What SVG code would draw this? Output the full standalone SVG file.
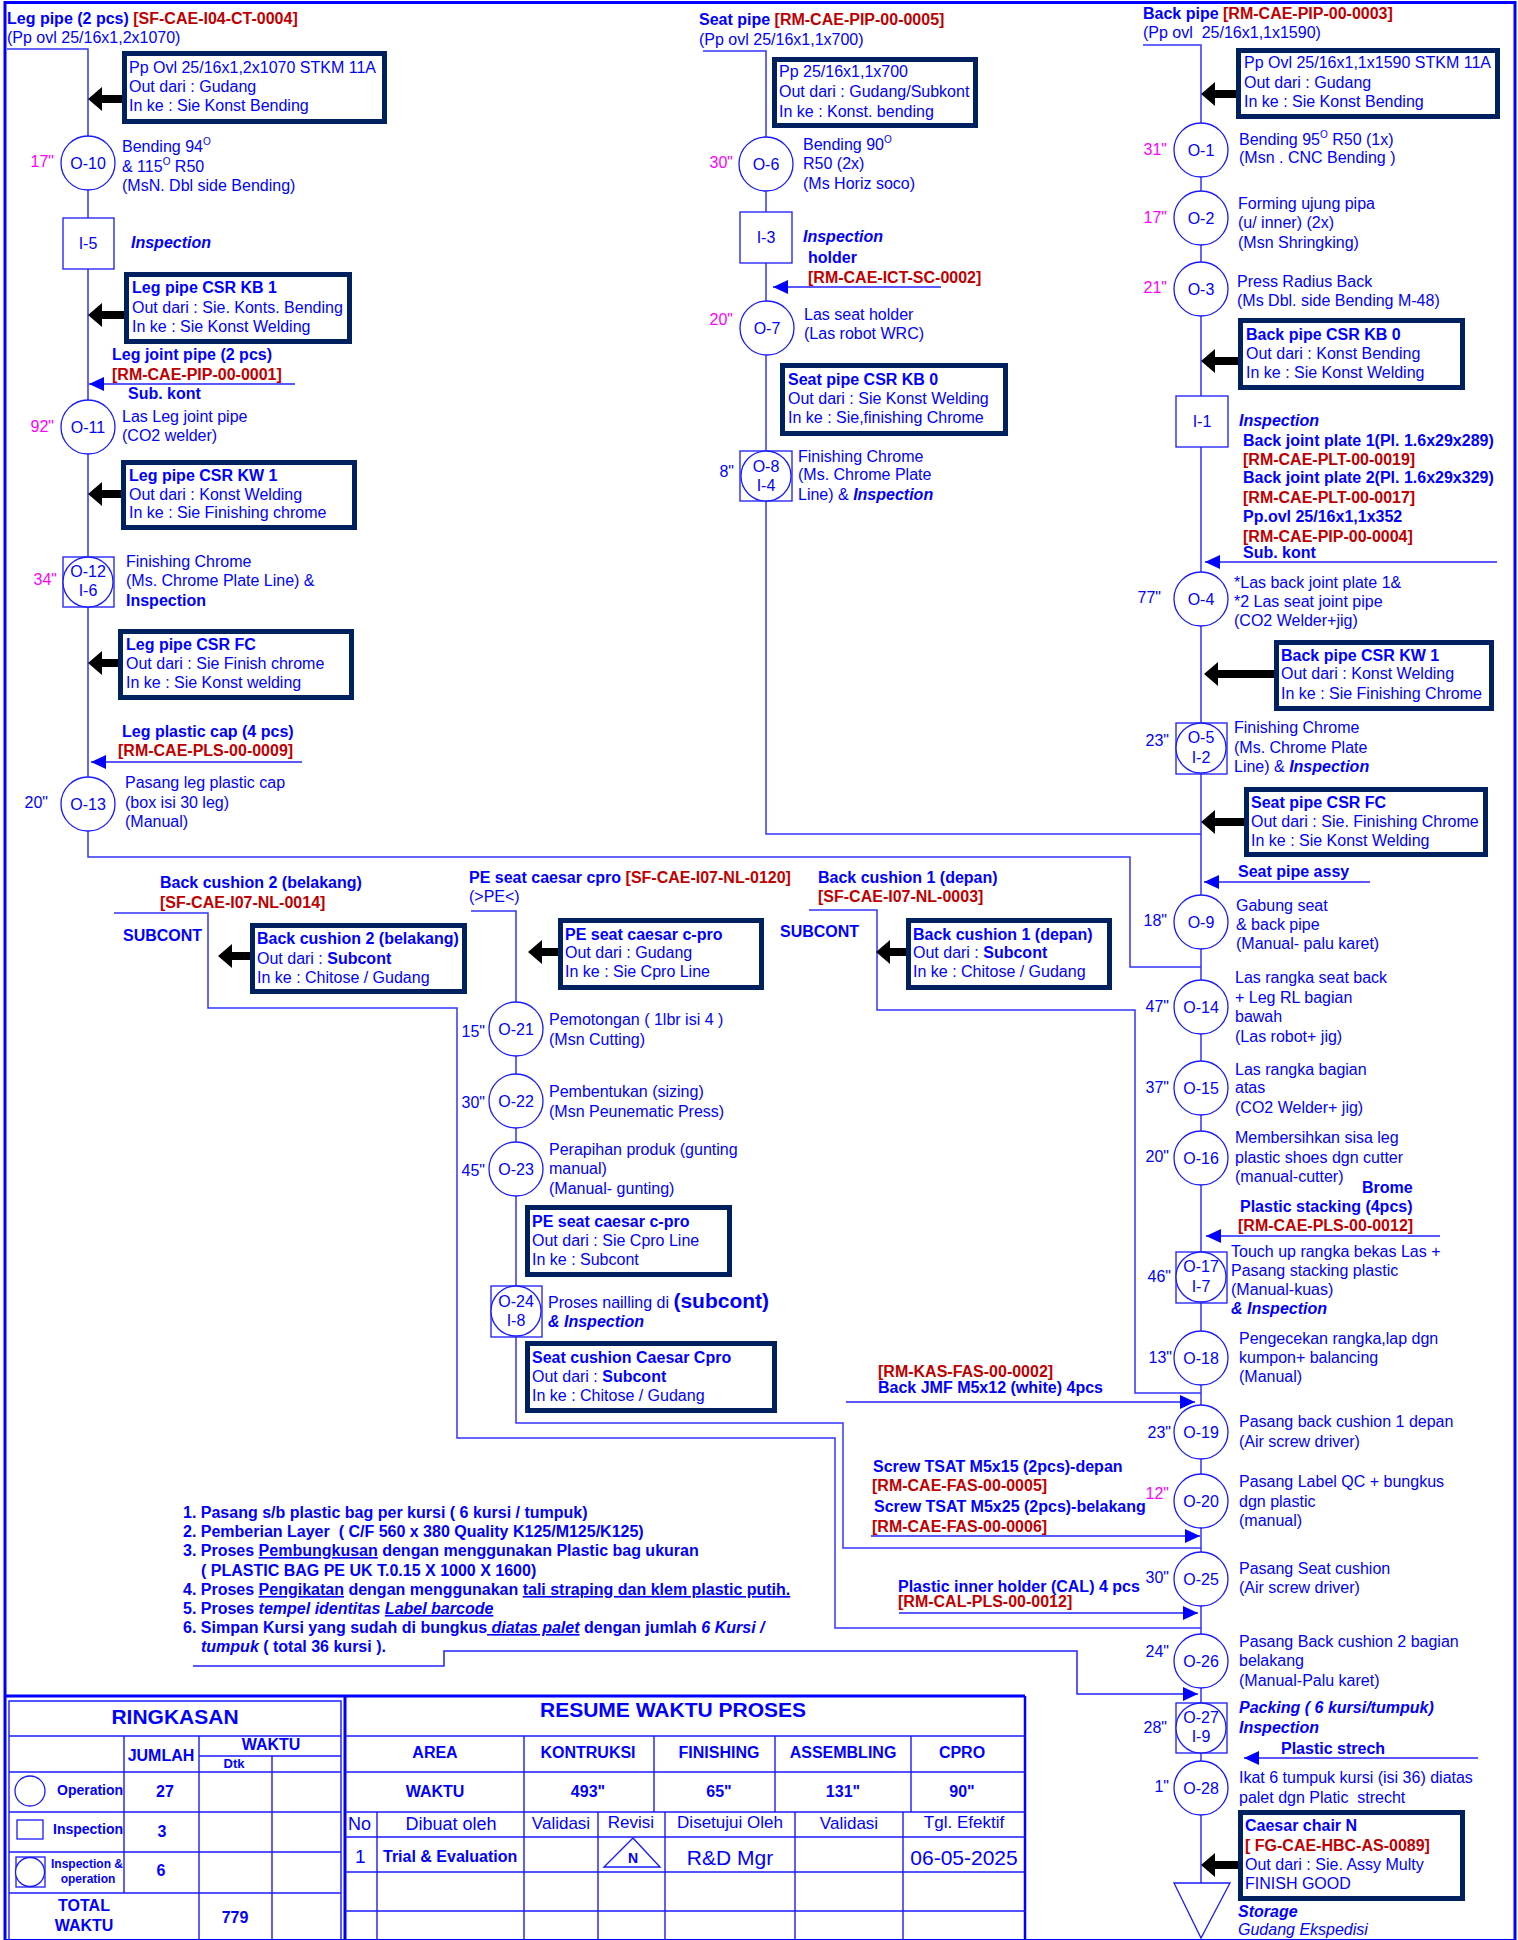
<svg xmlns="http://www.w3.org/2000/svg" width="1518" height="1940" viewBox="0 0 1518 1940">
<style>
text{font-family:"Liberation Sans",Arial,Helvetica,sans-serif;font-size:16px;fill:#0000FF}
.b{font-weight:bold}
.i{font-style:italic}
.r{fill:#C00000}
.m{fill:#FF00FF}
.c{text-anchor:middle}
.e{text-anchor:end}
.u{text-decoration:underline}
.ln{fill:none;stroke:#3333FF;stroke-width:1.5}
.tb{fill:none;stroke:#1A1AFF;stroke-width:1.4}
.box{fill:#FFFFFF;stroke:#002060;stroke-width:5}
.sym{fill:#FFFFFF;stroke:#1A1AFF;stroke-width:1.3}
.blk{stroke:#000000;stroke-width:8;fill:none;marker-end:url(#bh)}
.bl{stroke:#2222FF;stroke-width:1.5;fill:none;marker-end:url(#ah)}
.sup{font-size:10px}
</style>
<defs>
<marker id="bh" markerUnits="userSpaceOnUse" markerWidth="15" markerHeight="24" refX="0" refY="12" orient="auto"><path d="M0,0 L14,12 L0,24 Z" fill="#000000"/></marker>
<marker id="ah" markerUnits="userSpaceOnUse" markerWidth="16" markerHeight="14" refX="15" refY="7" orient="auto"><path d="M0,0 L15,7 L0,14 Z" fill="#0000FF"/></marker>
</defs>
<rect x="0" y="0" width="1518" height="1940" fill="#FFFFFF"/>
<rect x="5" y="2.5" width="1510" height="1938" fill="none" stroke="#0000FF" stroke-width="3"/>

<g id="connectors">
<polyline class="ln" points="7,49 88,49 88,857 1130,857 1130,967 1201,967"/>
<polyline class="ln" points="703,51 766,51 766,834 1201,834"/>
<polyline class="ln" points="1143,45 1201,45 1201,1883"/>
<polyline class="ln" points="114,913 208,913 208,1008 457,1008 457,1438 835,1438 835,1628 1201,1628"/>
<polyline class="ln" points="471,911 516,911 516,1423 843,1423 843,1548 1201,1548"/>
<polyline class="ln" points="809,910 877,910 877,1010 1135,1010 1135,1393 1201,1393"/>
<polyline class="bl" points="193,1666 444,1666 444,1651 1077,1651 1077,1694 1198,1694"/>
<line class="bl" x1="295" y1="384" x2="89" y2="384"/>
<line class="bl" x1="302" y1="762" x2="91" y2="762"/>
<line class="bl" x1="941" y1="287" x2="773" y2="287"/>
<line class="bl" x1="1497" y1="562" x2="1205" y2="562"/>
<line class="bl" x1="1370" y1="882" x2="1204" y2="882"/>
<line class="bl" x1="1440" y1="1236" x2="1206" y2="1236"/>
<line class="bl" x1="1478" y1="1758" x2="1244" y2="1758"/>
<line class="bl" x1="846" y1="1402" x2="1195" y2="1402"/>
<line class="bl" x1="871" y1="1536" x2="1200" y2="1536"/>
<line class="bl" x1="899" y1="1613" x2="1198" y2="1613"/>
<line class="blk" x1="122" y1="99" x2="102" y2="99"/>
<line class="blk" x1="124" y1="315" x2="102" y2="315"/>
<line class="blk" x1="121" y1="494" x2="102" y2="494"/>
<line class="blk" x1="118" y1="663" x2="102" y2="663"/>
<line class="blk" x1="250" y1="956" x2="232" y2="956"/>
<line class="blk" x1="558" y1="952" x2="542" y2="952"/>
<line class="blk" x1="906" y1="952" x2="890" y2="952"/>
<line class="blk" x1="1236" y1="94" x2="1215" y2="94"/>
<line class="blk" x1="1238" y1="361" x2="1215" y2="361"/>
<line class="blk" x1="1274" y1="674" x2="1218" y2="674"/>
<line class="blk" x1="1244" y1="822" x2="1215" y2="822"/>
<line class="blk" x1="1238" y1="1865" x2="1215" y2="1865"/>
</g>

<g id="leg-header">
<text x="7" y="24" class="b">Leg pipe (2 pcs) <tspan class="r">[SF-CAE-I04-CT-0004]</tspan></text>
<text x="7" y="43">(Pp ovl 25/16x1,2x1070)</text>
</g>
<g id="seat-header">
<text x="699" y="25" class="b">Seat pipe <tspan class="r">[RM-CAE-PIP-00-0005]</tspan></text>
<text x="699" y="45">(Pp ovl 25/16x1,1x700)</text>
</g>
<g id="back-header">
<text x="1143" y="19" class="b">Back pipe <tspan class="r">[RM-CAE-PIP-00-0003]</tspan></text>
<text x="1143" y="38" style="white-space:pre">(Pp ovl  25/16x1,1x1590)</text>
</g>

<g id="box-leg-material">
<rect class="box" x="124.5" y="53.5" width="260" height="68"/>
<text x="129" y="73">Pp Ovl 25/16x1,2x1070 STKM 11A</text>
<text x="129" y="92">Out dari : Gudang</text>
<text x="129" y="111">In ke : Sie Konst Bending</text>
</g>
<g id="O-10">
<circle class="sym" cx="88" cy="163" r="27"/>
<text x="88" y="169" class="c">O-10</text>
<text x="54" y="167" class="e m">17"</text>
<text x="122" y="152">Bending 94<tspan class="sup" dy="-7">O</tspan></text>
<text x="122" y="172">&amp; 115<tspan class="sup" dy="-7">O</tspan><tspan dy="7"> R50</tspan></text>
<text x="122" y="191">(MsN. Dbl side Bending)</text>
</g>
<g id="I-5">
<rect class="sym" x="63" y="218" width="51" height="51"/>
<text x="88" y="249" class="c">I-5</text>
<text x="131" y="248" class="b i">Inspection</text>
</g>
<g id="box-leg-kb1">
<rect class="box" x="126.5" y="274.5" width="223" height="67"/>
<text x="132" y="293" class="b">Leg pipe CSR KB 1</text>
<text x="132" y="313">Out dari : Sie. Konts. Bending</text>
<text x="132" y="332">In ke : Sie Konst Welding</text>
</g>
<g id="leg-joint-input">
<text x="112" y="360" class="b">Leg joint pipe (2 pcs)</text>
<text x="112" y="380" class="b r">[RM-CAE-PIP-00-0001]</text>
<text x="128" y="399" class="b">Sub. kont</text>
</g>
<g id="O-11">
<circle class="sym" cx="88" cy="427" r="27"/>
<text x="88" y="433" class="c">O-11</text>
<text x="54" y="432" class="e m">92"</text>
<text x="122" y="422">Las Leg joint pipe</text>
<text x="122" y="441">(CO2 welder)</text>
</g>
<g id="box-leg-kw1">
<rect class="box" x="123.5" y="462.5" width="231" height="65"/>
<text x="129" y="481" class="b">Leg pipe CSR KW 1</text>
<text x="129" y="500">Out dari : Konst Welding</text>
<text x="129" y="518">In ke : Sie Finishing chrome</text>
</g>
<g id="O-12">
<rect class="sym" x="63" y="557" width="51" height="50"/>
<circle class="sym" cx="88" cy="582" r="25"/>
<text x="88" y="577" class="c">O-12</text>
<text x="88" y="596" class="c">I-6</text>
<text x="57" y="585" class="e m">34"</text>
<text x="126" y="567">Finishing Chrome</text>
<text x="126" y="586">(Ms. Chrome Plate Line) &amp;</text>
<text x="126" y="606" class="b">Inspection</text>
</g>
<g id="box-leg-fc">
<rect class="box" x="120.5" y="631.5" width="231" height="66"/>
<text x="126" y="650" class="b">Leg pipe CSR FC</text>
<text x="126" y="669">Out dari : Sie Finish chrome</text>
<text x="126" y="688">In ke : Sie Konst welding</text>
</g>
<g id="leg-cap-input">
<text x="122" y="737" class="b">Leg plastic cap (4 pcs)</text>
<text x="118" y="756" class="b r">[RM-CAE-PLS-00-0009]</text>
</g>
<g id="O-13">
<circle class="sym" cx="88" cy="804" r="27"/>
<text x="88" y="810" class="c">O-13</text>
<text x="48" y="808" class="e">20"</text>
<text x="125" y="788">Pasang leg plastic cap</text>
<text x="125" y="808">(box isi 30 leg)</text>
<text x="125" y="827">(Manual)</text>
</g>

<g id="box-seat-material">
<rect class="box" x="774.5" y="59.5" width="201" height="66"/>
<text x="779" y="77">Pp 25/16x1,1x700</text>
<text x="779" y="97">Out dari : Gudang/Subkont</text>
<text x="779" y="117">In ke : Konst. bending</text>
</g>
<g id="O-6">
<circle class="sym" cx="766" cy="164" r="27"/>
<text x="766" y="170" class="c">O-6</text>
<text x="733" y="168" class="e m">30"</text>
<text x="803" y="150">Bending 90<tspan class="sup" dy="-7">O</tspan></text>
<text x="803" y="169">R50 (2x)</text>
<text x="803" y="189">(Ms Horiz soco)</text>
</g>
<g id="I-3">
<rect class="sym" x="740" y="212" width="52" height="51"/>
<text x="766" y="243" class="c">I-3</text>
<text x="803" y="242" class="b i">Inspection</text>
</g>
<g id="holder-input">
<text x="808" y="263" class="b">holder</text>
<text x="808" y="283" class="b r">[RM-CAE-ICT-SC-0002]</text>
</g>
<g id="O-7">
<circle class="sym" cx="767" cy="328" r="27"/>
<text x="767" y="334" class="c">O-7</text>
<text x="733" y="325" class="e m">20"</text>
<text x="804" y="320">Las seat holder</text>
<text x="804" y="339">(Las robot WRC)</text>
</g>
<g id="box-seat-kb0">
<rect class="box" x="782.5" y="365.5" width="223" height="68"/>
<text x="788" y="385" class="b">Seat pipe CSR KB 0</text>
<text x="788" y="404">Out dari : Sie Konst Welding</text>
<text x="788" y="423">In ke : Sie,finishing Chrome</text>
</g>
<g id="O-8">
<rect class="sym" x="740" y="451" width="52" height="50"/>
<circle class="sym" cx="766" cy="476" r="25"/>
<text x="766" y="472" class="c">O-8</text>
<text x="766" y="491" class="c">I-4</text>
<text x="734" y="477" class="e">8"</text>
<text x="798" y="462">Finishing Chrome</text>
<text x="798" y="480">(Ms. Chrome Plate</text>
<text x="798" y="500">Line) &amp; <tspan class="b i">Inspection</tspan></text>
</g>

<g id="box-back-material">
<rect class="box" x="1238.5" y="50.5" width="259" height="66"/>
<text x="1244" y="68">Pp Ovl 25/16x1,1x1590 STKM 11A</text>
<text x="1244" y="88">Out dari : Gudang</text>
<text x="1244" y="107">In ke : Sie Konst Bending</text>
</g>
<g id="O-1">
<circle class="sym" cx="1201" cy="150" r="27"/>
<text x="1201" y="156" class="c">O-1</text>
<text x="1167" y="155" class="e m">31"</text>
<text x="1239" y="145">Bending 95<tspan class="sup" dy="-7">O</tspan><tspan dy="7"> R50 (1x)</tspan></text>
<text x="1239" y="163">(Msn . CNC Bending )</text>
</g>
<g id="O-2">
<circle class="sym" cx="1201" cy="218" r="27"/>
<text x="1201" y="224" class="c">O-2</text>
<text x="1167" y="223" class="e m">17"</text>
<text x="1238" y="209">Forming ujung pipa</text>
<text x="1238" y="228">(u/ inner) (2x)</text>
<text x="1238" y="248">(Msn Shringking)</text>
</g>
<g id="O-3">
<circle class="sym" cx="1201" cy="289" r="27"/>
<text x="1201" y="295" class="c">O-3</text>
<text x="1167" y="293" class="e m">21"</text>
<text x="1237" y="287">Press Radius Back</text>
<text x="1237" y="306">(Ms Dbl. side Bending M-48)</text>
</g>
<g id="box-back-kb0">
<rect class="box" x="1240.5" y="320.5" width="222" height="67"/>
<text x="1246" y="340" class="b">Back pipe CSR KB 0</text>
<text x="1246" y="359">Out dari : Konst Bending</text>
<text x="1246" y="378">In ke : Sie Konst Welding</text>
</g>
<g id="I-1">
<rect class="sym" x="1176" y="396" width="52" height="51"/>
<text x="1202" y="427" class="c">I-1</text>
<text x="1239" y="426" class="b i">Inspection</text>
</g>
<g id="back-joint-input">
<text x="1243" y="446" class="b">Back joint plate 1(Pl. 1.6x29x289)</text>
<text x="1243" y="465" class="b r">[RM-CAE-PLT-00-0019]</text>
<text x="1243" y="483" class="b">Back joint plate 2(Pl. 1.6x29x329)</text>
<text x="1243" y="503" class="b r">[RM-CAE-PLT-00-0017]</text>
<text x="1243" y="522" class="b">Pp.ovl 25/16x1,1x352</text>
<text x="1243" y="542" class="b r">[RM-CAE-PIP-00-0004]</text>
<text x="1243" y="558" class="b">Sub. kont</text>
</g>
<g id="O-4">
<circle class="sym" cx="1201" cy="599" r="27"/>
<text x="1201" y="605" class="c">O-4</text>
<text x="1161" y="603" class="e">77"</text>
<text x="1234" y="588">*Las back joint plate 1&amp;</text>
<text x="1234" y="607">*2 Las seat joint pipe</text>
<text x="1234" y="626">(CO2 Welder+jig)</text>
</g>
<g id="box-back-kw1">
<rect class="box" x="1276.5" y="642.5" width="215" height="66"/>
<text x="1281" y="661" class="b">Back pipe CSR KW 1</text>
<text x="1281" y="679">Out dari : Konst Welding</text>
<text x="1281" y="699">In ke : Sie Finishing Chrome</text>
</g>
<g id="O-5">
<rect class="sym" x="1176" y="723" width="51" height="51"/>
<circle class="sym" cx="1201" cy="748" r="25"/>
<text x="1201" y="743" class="c">O-5</text>
<text x="1201" y="763" class="c">I-2</text>
<text x="1169" y="746" class="e">23"</text>
<text x="1234" y="733">Finishing Chrome</text>
<text x="1234" y="753">(Ms. Chrome Plate</text>
<text x="1234" y="772">Line) &amp; <tspan class="b i">Inspection</tspan></text>
</g>
<g id="box-seat-fc">
<rect class="box" x="1246.5" y="789.5" width="239" height="65"/>
<text x="1251" y="808" class="b">Seat pipe CSR FC</text>
<text x="1251" y="827">Out dari : Sie. Finishing Chrome</text>
<text x="1251" y="846">In ke : Sie Konst Welding</text>
</g>
<g id="seat-assy-input">
<text x="1238" y="877" class="b">Seat pipe assy</text>
</g>
<g id="O-9">
<circle class="sym" cx="1201" cy="922" r="27"/>
<text x="1201" y="928" class="c">O-9</text>
<text x="1167" y="926" class="e">18"</text>
<text x="1236" y="911">Gabung seat</text>
<text x="1236" y="930">&amp; back pipe</text>
<text x="1236" y="949">(Manual- palu karet)</text>
</g>
<g id="O-14">
<circle class="sym" cx="1201" cy="1007" r="27"/>
<text x="1201" y="1013" class="c">O-14</text>
<text x="1169" y="1012" class="e">47"</text>
<text x="1235" y="983">Las rangka seat back</text>
<text x="1235" y="1003">+ Leg RL bagian</text>
<text x="1235" y="1022">bawah</text>
<text x="1235" y="1042">(Las robot+ jig)</text>
</g>
<g id="O-15">
<circle class="sym" cx="1201" cy="1088" r="27"/>
<text x="1201" y="1094" class="c">O-15</text>
<text x="1169" y="1093" class="e">37"</text>
<text x="1235" y="1075">Las rangka bagian</text>
<text x="1235" y="1093">atas</text>
<text x="1235" y="1113">(CO2 Welder+ jig)</text>
</g>
<g id="O-16">
<circle class="sym" cx="1201" cy="1158" r="27"/>
<text x="1201" y="1164" class="c">O-16</text>
<text x="1169" y="1162" class="e">20"</text>
<text x="1235" y="1143">Membersihkan sisa leg</text>
<text x="1235" y="1163">plastic shoes dgn cutter</text>
<text x="1235" y="1182">(manual-cutter)</text>
</g>
<g id="stacking-input">
<text x="1362" y="1193" class="b">Brome</text>
<text x="1240" y="1212" class="b">Plastic stacking (4pcs)</text>
<text x="1238" y="1231" class="b r">[RM-CAE-PLS-00-0012]</text>
</g>
<g id="O-17">
<rect class="sym" x="1176" y="1252" width="51" height="51"/>
<circle class="sym" cx="1201" cy="1277" r="25"/>
<text x="1201" y="1272" class="c">O-17</text>
<text x="1201" y="1292" class="c">I-7</text>
<text x="1171" y="1282" class="e">46"</text>
<text x="1231" y="1257">Touch up rangka bekas Las +</text>
<text x="1231" y="1276">Pasang stacking plastic</text>
<text x="1231" y="1295">(Manual-kuas)</text>
<text x="1231" y="1314" class="b i">&amp; Inspection</text>
</g>
<g id="O-18">
<circle class="sym" cx="1201" cy="1358" r="27"/>
<text x="1201" y="1364" class="c">O-18</text>
<text x="1172" y="1363" class="e">13"</text>
<text x="1239" y="1344">Pengecekan rangka,lap dgn</text>
<text x="1239" y="1363">kumpon+ balancing</text>
<text x="1239" y="1382">(Manual)</text>
</g>
<g id="jmf-input">
<text x="878" y="1377" class="b r">[RM-KAS-FAS-00-0002]</text>
<text x="878" y="1393" class="b">Back JMF M5x12 (white) 4pcs</text>
</g>
<g id="O-19">
<circle class="sym" cx="1201" cy="1432" r="27"/>
<text x="1201" y="1438" class="c">O-19</text>
<text x="1171" y="1438" class="e">23"</text>
<text x="1239" y="1427">Pasang back cushion 1 depan</text>
<text x="1239" y="1447">(Air screw driver)</text>
</g>
<g id="screw-input">
<text x="873" y="1472" class="b">Screw TSAT M5x15 (2pcs)-depan</text>
<text x="872" y="1491" class="b r">[RM-CAE-FAS-00-0005]</text>
<text x="874" y="1512" class="b">Screw TSAT M5x25 (2pcs)-belakang</text>
<text x="872" y="1532" class="b r">[RM-CAE-FAS-00-0006]</text>
</g>
<g id="O-20">
<circle class="sym" cx="1201" cy="1501" r="27"/>
<text x="1201" y="1507" class="c">O-20</text>
<text x="1169" y="1499" class="e m">12"</text>
<text x="1239" y="1487">Pasang Label QC + bungkus</text>
<text x="1239" y="1507">dgn plastic</text>
<text x="1239" y="1526">(manual)</text>
</g>
<g id="O-25">
<circle class="sym" cx="1201" cy="1579" r="27"/>
<text x="1201" y="1585" class="c">O-25</text>
<text x="1169" y="1583" class="e">30"</text>
<text x="1239" y="1574">Pasang Seat cushion</text>
<text x="1239" y="1593">(Air screw driver)</text>
</g>
<g id="inner-holder-input">
<text x="898" y="1592" class="b">Plastic inner holder (CAL) 4 pcs</text>
<text x="898" y="1607" class="b r">[RM-CAL-PLS-00-0012]</text>
</g>
<g id="O-26">
<circle class="sym" cx="1201" cy="1661" r="27"/>
<text x="1201" y="1667" class="c">O-26</text>
<text x="1169" y="1657" class="e">24"</text>
<text x="1239" y="1647">Pasang Back cushion 2 bagian</text>
<text x="1239" y="1666">belakang</text>
<text x="1239" y="1686">(Manual-Palu karet)</text>
</g>
<g id="O-27">
<rect class="sym" x="1176" y="1703" width="51" height="50"/>
<circle class="sym" cx="1201" cy="1728" r="25"/>
<text x="1201" y="1723" class="c">O-27</text>
<text x="1201" y="1742" class="c">I-9</text>
<text x="1167" y="1733" class="e">28"</text>
<text x="1239" y="1713" class="b i">Packing ( 6 kursi/tumpuk)</text>
<text x="1239" y="1733" class="b i">Inspection</text>
</g>
<g id="stretch-input">
<text x="1281" y="1754" class="b">Plastic strech</text>
</g>
<g id="O-28">
<circle class="sym" cx="1201" cy="1788" r="27"/>
<text x="1201" y="1794" class="c">O-28</text>
<text x="1169" y="1792" class="e">1"</text>
<text x="1239" y="1783">Ikat 6 tumpuk kursi (isi 36) diatas</text>
<text x="1239" y="1803" style="white-space:pre">palet dgn Platic  strecht</text>
</g>
<g id="box-finish-good">
<rect class="box" x="1240.5" y="1812.5" width="222" height="86"/>
<text x="1245" y="1831" class="b">Caesar chair N</text>
<text x="1245" y="1851" class="b r">[ FG-CAE-HBC-AS-0089]</text>
<text x="1245" y="1870">Out dari : Sie. Assy Multy</text>
<text x="1245" y="1889">FINISH GOOD</text>
</g>
<g id="storage">
<polygon class="sym" points="1174,1883 1230,1883 1201,1938"/>
<text x="1238" y="1917" class="b i">Storage</text>
<text x="1238" y="1935" class="i">Gudang Ekspedisi</text>
</g>

<g id="back-cushion-2-header">
<text x="160" y="888" class="b">Back cushion 2 (belakang)</text>
<text x="160" y="908" class="b r">[SF-CAE-I07-NL-0014]</text>
<text x="123" y="941" class="b">SUBCONT</text>
</g>
<g id="box-back-cushion-2">
<rect class="box" x="252.5" y="925.5" width="212" height="66"/>
<text x="257" y="944" class="b">Back cushion 2 (belakang)</text>
<text x="257" y="964">Out dari : <tspan class="b">Subcont</tspan></text>
<text x="257" y="983">In ke : Chitose / Gudang</text>
</g>
<g id="pe-seat-header">
<text x="469" y="883" class="b">PE seat caesar cpro <tspan class="r">[SF-CAE-I07-NL-0120]</tspan></text>
<text x="469" y="902">(&gt;PE&lt;)</text>
</g>
<g id="box-pe-seat-1">
<rect class="box" x="560.5" y="920.5" width="201" height="67"/>
<text x="565" y="940" class="b">PE seat caesar c-pro</text>
<text x="565" y="958">Out dari : Gudang</text>
<text x="565" y="977">In ke : Sie Cpro Line</text>
</g>
<g id="back-cushion-1-header">
<text x="818" y="883" class="b">Back cushion 1 (depan)</text>
<text x="818" y="902" class="b r">[SF-CAE-I07-NL-0003]</text>
<text x="780" y="937" class="b">SUBCONT</text>
</g>
<g id="box-back-cushion-1">
<rect class="box" x="908.5" y="920.5" width="201" height="67"/>
<text x="913" y="940" class="b">Back cushion 1 (depan)</text>
<text x="913" y="958">Out dari : <tspan class="b">Subcont</tspan></text>
<text x="913" y="977">In ke : Chitose / Gudang</text>
</g>
<g id="O-21">
<circle class="sym" cx="516" cy="1029" r="27"/>
<text x="516" y="1035" class="c">O-21</text>
<text x="485" y="1037" class="e">15"</text>
<text x="549" y="1025">Pemotongan ( 1lbr isi 4 )</text>
<text x="549" y="1045">(Msn Cutting)</text>
</g>
<g id="O-22">
<circle class="sym" cx="516" cy="1101" r="27"/>
<text x="516" y="1107" class="c">O-22</text>
<text x="485" y="1108" class="e">30"</text>
<text x="549" y="1097">Pembentukan (sizing)</text>
<text x="549" y="1117">(Msn Peunematic Press)</text>
</g>
<g id="O-23">
<circle class="sym" cx="516" cy="1169" r="27"/>
<text x="516" y="1175" class="c">O-23</text>
<text x="485" y="1176" class="e">45"</text>
<text x="549" y="1155">Perapihan produk (gunting</text>
<text x="549" y="1174">manual)</text>
<text x="549" y="1194">(Manual- gunting)</text>
</g>
<g id="box-pe-seat-2">
<rect class="box" x="527.5" y="1207.5" width="202" height="67"/>
<text x="532" y="1227" class="b">PE seat caesar c-pro</text>
<text x="532" y="1246">Out dari : Sie Cpro Line</text>
<text x="532" y="1265">In ke : Subcont</text>
</g>
<g id="O-24">
<rect class="sym" x="491" y="1286" width="51" height="51"/>
<circle class="sym" cx="516" cy="1311" r="25"/>
<text x="516" y="1307" class="c">O-24</text>
<text x="516" y="1326" class="c">I-8</text>
<text x="548" y="1308">Proses nailling di <tspan class="b" style="font-size:21px">(subcont)</tspan></text>
<text x="548" y="1327" class="b i">&amp; Inspection</text>
</g>
<g id="box-seat-cushion">
<rect class="box" x="527.5" y="1343.5" width="247" height="67"/>
<text x="532" y="1363" class="b">Seat cushion Caesar Cpro</text>
<text x="532" y="1382">Out dari : <tspan class="b">Subcont</tspan></text>
<text x="532" y="1401">In ke : Chitose / Gudang</text>
</g>

<g id="packing-notes">
<text x="183" y="1518" class="b">1. Pasang s/b plastic bag per kursi ( 6 kursi / tumpuk)</text>
<text x="183" y="1537" class="b" style="white-space:pre">2. Pemberian Layer  ( C/F 560 x 380 Quality K125/M125/K125)</text>
<text x="183" y="1556" class="b">3. Proses <tspan class="u">Pembungkusan</tspan> dengan menggunakan Plastic bag ukuran</text>
<text x="201" y="1576" class="b">( PLASTIC BAG PE UK T.0.15 X 1000 X 1600)</text>
<text x="183" y="1595" class="b">4. Proses <tspan class="u">Pengikatan</tspan> dengan menggunakan <tspan class="u">tali straping dan klem plastic putih.</tspan></text>
<text x="183" y="1614" class="b">5. Proses <tspan class="i">tempel identitas </tspan><tspan class="i u">Label barcode</tspan></text>
<text x="183" y="1633" class="b">6. Simpan Kursi yang sudah di bungkus<tspan class="i u"> diatas palet</tspan> dengan jumlah <tspan class="i">6 Kursi /</tspan></text>
<text x="201" y="1652" class="b"><tspan class="i">tumpuk</tspan> ( total 36 kursi ).</text>
</g>

<g id="table-ringkasan">
<line x1="5" y1="1696" x2="1025" y2="1696" stroke="#0000FF" stroke-width="3"/>
<line x1="345" y1="1696" x2="345" y2="1940" stroke="#0000FF" stroke-width="3"/>
<line x1="1025" y1="1696" x2="1025" y2="1940" stroke="#0000FF" stroke-width="2.5"/>
<polyline class="tb" points="9,1940 9,1701 341,1701 341,1940"/>
<line class="tb" x1="9" y1="1736" x2="341" y2="1736"/>
<line class="tb" x1="124" y1="1736" x2="124" y2="1893"/>
<line class="tb" x1="199" y1="1736" x2="199" y2="1940"/>
<line class="tb" x1="272" y1="1756" x2="272" y2="1940"/>
<line class="tb" x1="199" y1="1756" x2="341" y2="1756"/>
<line class="tb" x1="9" y1="1772" x2="341" y2="1772"/>
<line class="tb" x1="9" y1="1812" x2="341" y2="1812"/>
<line class="tb" x1="9" y1="1852" x2="341" y2="1852"/>
<line class="tb" x1="9" y1="1893" x2="341" y2="1893"/>
<text x="175" y="1724" class="b c" style="font-size:21px">RINGKASAN</text>
<text x="161" y="1761" class="b c">JUMLAH</text>
<text x="271" y="1750" class="b c">WAKTU</text>
<text x="234" y="1768" class="b c" style="font-size:13px">Dtk</text>
<circle class="sym" cx="30" cy="1791" r="15"/>
<text x="57" y="1795" class="b" style="font-size:14px">Operation</text>
<text x="165" y="1797" class="b c">27</text>
<rect class="sym" x="17" y="1820" width="26" height="19"/>
<text x="53" y="1834" class="b" style="font-size:14px">Inspection</text>
<text x="162" y="1837" class="b c">3</text>
<rect class="sym" x="16" y="1857" width="29" height="30"/>
<circle class="sym" cx="30" cy="1872" r="14.5"/>
<text x="51" y="1868" class="b" style="font-size:12px">Inspection &amp;</text>
<text x="88" y="1883" class="b c" style="font-size:12px">operation</text>
<text x="161" y="1876" class="b c">6</text>
<text x="84" y="1911" class="b c">TOTAL</text>
<text x="84" y="1931" class="b c">WAKTU</text>
<text x="235" y="1923" class="b c">779</text>
</g>

<g id="table-resume">
<line class="tb" x1="345" y1="1736" x2="1025" y2="1736"/>
<line class="tb" x1="345" y1="1772" x2="1025" y2="1772"/>
<line class="tb" x1="345" y1="1812" x2="1025" y2="1812"/>
<line class="tb" x1="345" y1="1837" x2="1025" y2="1837"/>
<line class="tb" x1="345" y1="1872" x2="1025" y2="1872"/>
<line class="tb" x1="345" y1="1911" x2="1025" y2="1911"/>
<line class="tb" x1="524" y1="1736" x2="524" y2="1812"/>
<line class="tb" x1="654" y1="1736" x2="654" y2="1812"/>
<line class="tb" x1="775" y1="1736" x2="775" y2="1812"/>
<line class="tb" x1="911" y1="1736" x2="911" y2="1812"/>
<line class="tb" x1="377" y1="1812" x2="377" y2="1940"/>
<line class="tb" x1="524" y1="1812" x2="524" y2="1940"/>
<line class="tb" x1="598" y1="1812" x2="598" y2="1940"/>
<line class="tb" x1="665" y1="1812" x2="665" y2="1940"/>
<line class="tb" x1="795" y1="1812" x2="795" y2="1940"/>
<line class="tb" x1="903" y1="1812" x2="903" y2="1940"/>
<text x="673" y="1717" class="b c" style="font-size:21px">RESUME WAKTU PROSES</text>
<text x="435" y="1758" class="b c">AREA</text>
<text x="588" y="1758" class="b c">KONTRUKSI</text>
<text x="719" y="1758" class="b c">FINISHING</text>
<text x="843" y="1758" class="b c">ASSEMBLING</text>
<text x="962" y="1758" class="b c">CPRO</text>
<text x="435" y="1797" class="b c">WAKTU</text>
<text x="588" y="1797" class="b c">493"</text>
<text x="719" y="1797" class="b c">65"</text>
<text x="843" y="1797" class="b c">131"</text>
<text x="962" y="1797" class="b c">90"</text>
<text x="348" y="1830" style="font-size:18px">No</text>
<text x="451" y="1830" class="c" style="font-size:18px">Dibuat oleh</text>
<text x="561" y="1829" class="c" style="font-size:17px">Validasi</text>
<text x="631" y="1828" class="c" style="font-size:17px">Revisi</text>
<text x="730" y="1828" class="c" style="font-size:17px">Disetujui Oleh</text>
<text x="849" y="1829" class="c" style="font-size:17px">Validasi</text>
<text x="964" y="1828" class="c" style="font-size:17px">Tgl. Efektif</text>
<text x="355" y="1863" style="font-size:19px">1</text>
<text x="383" y="1862" class="b">Trial &amp; Evaluation</text>
<polygon class="tb" points="604,1867 660,1867 633,1838"/>
<text x="633" y="1863" class="b c" style="font-size:14px">N</text>
<text x="730" y="1865" class="c" style="font-size:21px">R&amp;D Mgr</text>
<text x="964" y="1865" class="c" style="font-size:21px">06-05-2025</text>
</g>
</svg>
